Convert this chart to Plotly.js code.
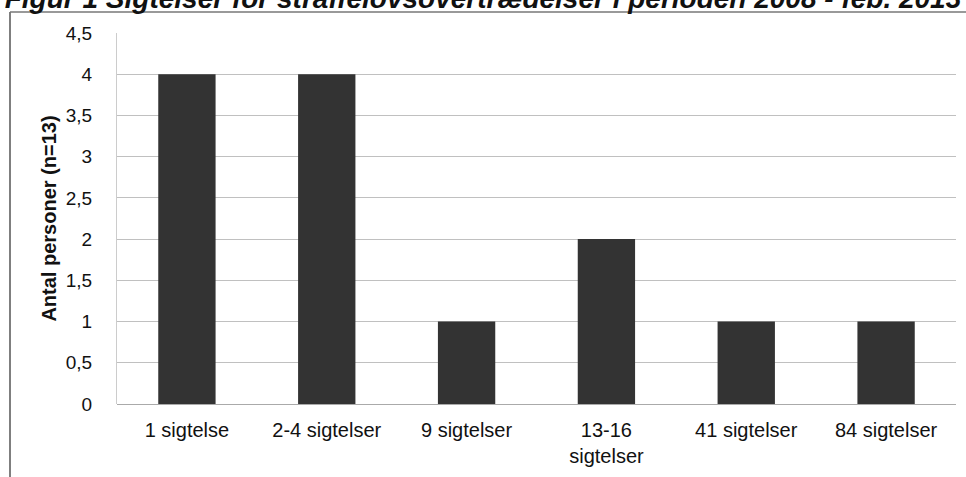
<!DOCTYPE html>
<html>
<head>
<meta charset="utf-8">
<script src="https://cdn.plot.ly/plotly-3.0.1.min.js"></script>
<style>html,body{margin:0;padding:0;background:#fff;}#chart{width:966px;height:477px;}</style>
</head>
<body>
<div id="chart"></div>
<script>
var categories = ["1 sigtelse", "2-4 sigtelser", "9 sigtelser", "13-16<br>sigtelser", "41 sigtelser", "84 sigtelser"];
var personer = [4, 4, 1, 2, 1, 1];
var yTicks = [0, 0.5, 1, 1.5, 2, 2.5, 3, 3.5, 4, 4.5];
var yTickLabels = ["0", "0,5", "1", "1,5", "2", "2,5", "3", "3,5", "4", "4,5"];
var titleText = "Figur 1 Sigtelser for straffelovsovertrædelser i perioden 2008 - feb. 2013";

var W = 966, H = 477, L = 117, R = 10, T = 33, B = 73;
var pw = W - L - R, ph = H - T - B;
function px(x) { return (x - L) / pw; }
function py(y) { return (H - B - y) / ph; }

var trace = {
  type: 'bar',
  x: categories,
  y: personer,
  marker: {color: '#333333', line: {width: 0}},
  hoverinfo: 'none'
};

var layout = {
  width: W, height: H,
  margin: {l: L, r: R, t: T, b: B, pad: 0},
  paper_bgcolor: '#ffffff',
  plot_bgcolor: '#ffffff',
  showlegend: false,
  bargap: 0.59,
  separators: ',.',
  font: {family: 'Liberation Sans, Arial, sans-serif', size: 19, color: '#111111'},
  title: {
    text: '<b><i>' + titleText + '</i></b>',
    font: {family: 'Liberation Sans, Arial, sans-serif', size: 28, color: '#111111'},
    x: 0.5, xref: 'container', xanchor: 'center',
    y: 1 - 8 / 477, yref: 'container', yanchor: 'bottom'
  },
  xaxis: {
    type: 'category',
    showgrid: false,
    zeroline: false,
    showline: false,
    ticks: '',
    ticklabelstandoff: 12,
    tickfont: {size: 20, color: '#111111'},
    fixedrange: true
  },
  yaxis: {
    range: [0, 4.5],
    tickvals: yTicks,
    ticktext: yTickLabels,
    showgrid: true,
    gridcolor: '#c0c0c0',
    gridwidth: 1,
    zeroline: true,
    zerolinecolor: '#aaaaaa',
    showline: true,
    linecolor: '#cccccc',
    ticks: '',
    ticklabelstandoff: 20,
    tickfont: {size: 19, color: '#111111'},
    title: {text: '<b>Antal personer (n=13)</b>', font: {size: 20, color: '#111111'}, standoff: 3},
    fixedrange: true
  },
  shapes: [
    {type: 'line', xref: 'paper', yref: 'paper', x0: px(10), x1: px(10), y0: py(12), y1: py(H + 5), line: {color: '#555555', width: 1.5}},
    {type: 'line', xref: 'paper', yref: 'paper', x0: px(10), x1: px(W + 5), y0: py(12), y1: py(12), line: {color: '#777777', width: 1.5}}
  ]
};

Plotly.newPlot('chart', [trace], layout, {displayModeBar: false, staticPlot: true});
</script>
</body>
</html>
